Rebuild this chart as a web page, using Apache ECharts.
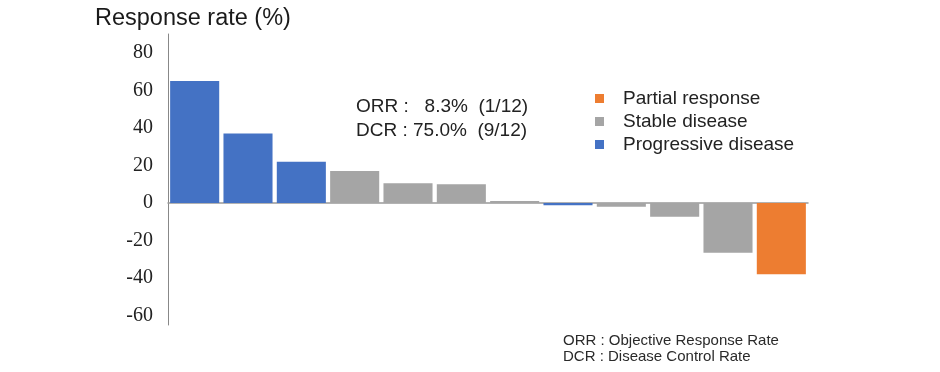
<!DOCTYPE html>
<html><head><meta charset="utf-8">
<script src="https://cdn.jsdelivr.net/npm/echarts@6/dist/echarts.min.js"></script>
<style>html,body{margin:0;padding:0;background:#fff}#c{width:940px;height:372px}</style>
</head><body><div id="c"></div>
<script>
const patients = ['P1','P2','P3','P4','P5','P6','P7','P8','P9','P10','P11','P12'];
const responseValues = [65, 37, 22, 17, 10.5, 10, 1, -1.2, -2, -7.4, -26.5, -38];
const responseTypes = ['PD','PD','PD','SD','SD','SD','SD','PD','SD','SD','SD','PR'];
const typeNames = {PR: 'Partial response', SD: 'Stable disease', PD: 'Progressive disease'};
const typeColors = {PR: '#ED7D31', SD: '#A5A5A5', PD: '#4472C4'};
const legendOrder = ['PR', 'SD', 'PD'];
const yTicks = [-60, -40, -20, 0, 20, 40, 60, 80];
const annotationLines = ['ORR :   8.3%  (1/12)', 'DCR : 75.0%  (9/12)'];
const footnoteLines = ['ORR : Objective Response Rate', 'DCR : Disease Control Rate'];

const series = legendOrder.map(t => ({
  name: typeNames[t],
  type: 'bar',
  stack: 'all',
  barCategoryGap: '8%',
  itemStyle: {color: typeColors[t]},
  data: responseValues.map((v, i) => responseTypes[i] === t ? v : '-')
}));

const chart = echarts.init(document.getElementById('c'));
chart.setOption({
  animation: false,
  backgroundColor: '#fff',
  grid: {left: 168, right: 132, top: 34, bottom: 47},
  title: {
    text: 'Response rate (%)', left: 90, top: 2,
    textStyle: {fontFamily: 'Liberation Sans', fontSize: 23.5, fontWeight: 'normal', color: '#1a1a1a'}
  },
  legend: {
    orient: 'vertical', left: 590, top: 82, itemWidth: 9, itemHeight: 9, itemGap: 0,
    icon: 'rect',
    data: legendOrder.map(t => typeNames[t]),
    textStyle: {fontFamily: 'Liberation Sans', fontSize: 19, lineHeight: 23, color: '#222', padding: [0,0,0,14]}
  },
  xAxis: {
    type: 'category', data: patients,
    axisLine: {onZero: true, lineStyle: {color: '#999', width: 1.5}},
    axisTick: {show: false}, axisLabel: {show: false}
  },
  yAxis: {
    type: 'value', min: -65, max: 90,
    splitLine: {show: false},
    axisLine: {show: true, lineStyle: {color: '#888'}},
    axisTick: {show: false},
    axisLabel: {
      customValues: yTicks, margin: 15, padding: [4, 0, 0, 0],
      fontFamily: 'Liberation Serif', fontSize: 20, color: '#222'
    }
  },
  graphic: [
    {type: 'text', left: 356, top: 95, style: {text: annotationLines.join('\n'), font: '19px "Liberation Sans"', fill: '#222', lineHeight: 24}},
    {type: 'text', left: 563, top: 333, style: {text: footnoteLines.join('\n'), font: '15px "Liberation Sans"', fill: '#2a2a2a', lineHeight: 16}}
  ],
  series: series
});
</script></body></html>
